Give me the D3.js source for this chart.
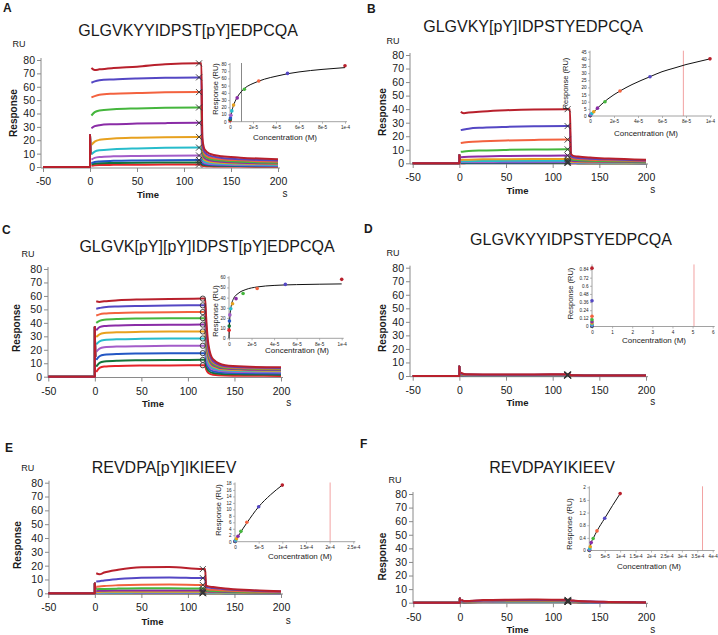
<!DOCTYPE html>
<html><head><meta charset="utf-8">
<script src="https://cdn.jsdelivr.net/npm/d3@7"></script>
<style>
body{margin:0;background:#fff}
svg{display:block}
text{font-family:"Liberation Sans",Arial,Helvetica,sans-serif;fill:#1a1a1a}
</style>
</head><body>
<svg id="chart" width="718" height="635"></svg>
<script>
// ---------------- DATA ----------------
const panelNames = ["A","B","C","D","E","F"];
const titles = [
  "GLGVKYYIDPST[pY]EDPCQA",
  "GLGVKY[pY]IDPSTYEDPCQA",
  "GLGVK[pY][pY]IDPST[pY]EDPCQA",
  "GLGVKYYIDPSTYEDPCQA",
  "REVDPA[pY]IKIEEV",
  "REVDPAYIKIEEV"
];
// analyte concentrations (M), highest first
const concentrations = [1e-4, 5e-5, 2.5e-5, 1.25e-5, 6.25e-6, 3.125e-6, 1.5625e-6, 7.8125e-7, 3.90625e-7, 1.953125e-7, 9.765625e-8];
const assocTimes = [1.5, 5, 10, 25, 50, 80, 116];
const dissocTimes = [119.5, 122, 127, 140, 160, 200];
const timeTicks = [-50, 0, 50, 100, 150, 200];
const responseTicks = [0, 10, 20, 30, 40, 50, 60, 70, 80];

// injection spike heights at t = 0 (RU)
const spikes = [24, 6, 37, 7, 7, 3];

// association phase responses (RU), one row per concentration
const assocA = [
  [74, 72.5, 73, 74, 75, 76.8, 77.5],
  [63, 64, 64.8, 65.5, 66.2, 66.7, 67],
  [52, 53, 54, 54.8, 55.3, 55.8, 56],
  [38.5, 41, 42.3, 43.2, 43.8, 44.3, 44.5],
  [29, 30.5, 31.3, 32, 32.5, 32.8, 33],
  [16.5, 19, 20.3, 21.3, 21.9, 22.3, 22.5],
  [9.5, 11.5, 12.5, 13.3, 13.9, 14.3, 14.5],
  [5.5, 6.8, 7.5, 8, 8.3, 8.5, 8.6],
  [3, 3.8, 4.2, 4.6, 4.9, 5.1, 5.2],
  [2, 2.5, 2.8, 3, 3.2, 3.3, 3.4],
  [1, 1.3, 1.5, 1.6, 1.7, 1.8, 1.8]
];
const dissocA = [
  [22, 13, 10, 8, 7, 5.8],
  [18, 11, 8.5, 6.8, 5.8, 4.8],
  [15, 9.5, 7.3, 5.8, 5, 4],
  [12, 8, 6.2, 4.8, 4, 3.2],
  [10, 6.5, 5, 3.9, 3.2, 2.6],
  [8, 5.2, 4, 3.1, 2.6, 2],
  [6, 4, 3.1, 2.4, 2, 1.5],
  [4.2, 3, 2.3, 1.8, 1.5, 1.1],
  [3, 2.2, 1.6, 1.3, 1, 0.7],
  [2, 1.5, 1.1, 0.9, 0.7, 0.5],
  [1, 0.8, 0.6, 0.4, 0.3, 0.2]
];
const assocB = [
  [38, 37, 37.5, 38.3, 39.2, 39.8, 40],
  [24.5, 25, 25.6, 26.3, 26.9, 27.3, 27.5],
  [15, 15.4, 15.8, 16.3, 16.9, 17.3, 17.5],
  [8.5, 8.8, 9.1, 9.5, 9.9, 10.2, 10.3],
  [4.5, 4.7, 4.9, 5.1, 5.4, 5.6, 5.7],
  [2.5, 2.6, 2.7, 2.9, 3, 3.1, 3.2],
  [1.4, 1.5, 1.6, 1.7, 1.8, 1.8, 1.9],
  [0.9, 0.9, 1, 1, 1.1, 1.1, 1.1],
  [0.5, 0.5, 0.6, 0.6, 0.6, 0.7, 0.7],
  [0.3, 0.3, 0.3, 0.4, 0.4, 0.4, 0.4],
  [0.1, 0.1, 0.2, 0.2, 0.2, 0.2, 0.2]
];
const dissocB = [
  [7, 5.5, 5, 4.2, 3.5, 2.6],
  [5.5, 4.5, 4, 3.4, 2.9, 2.1],
  [4.2, 3.6, 3.2, 2.7, 2.3, 1.6],
  [3, 2.6, 2.3, 1.9, 1.6, 1.2],
  [2, 1.7, 1.5, 1.3, 1.1, 0.8],
  [1.2, 1, 0.9, 0.8, 0.7, 0.5],
  [0.8, 0.7, 0.6, 0.5, 0.4, 0.3],
  [0.5, 0.4, 0.4, 0.3, 0.3, 0.2],
  [0.3, 0.3, 0.2, 0.2, 0.2, 0.1],
  [0.2, 0.2, 0.1, 0.1, 0.1, 0.1],
  [0.1, 0.1, 0.1, 0.1, 0, 0]
];
const assocC = [
  [56, 55.5, 56, 56.8, 57.4, 57.8, 58],
  [50.5, 51, 51.6, 52.2, 52.6, 52.9, 53],
  [45.5, 46.3, 46.9, 47.4, 47.7, 47.9, 48],
  [40, 41.5, 42.3, 42.9, 43.2, 43.4, 43.5],
  [34.5, 36.8, 37.6, 38.1, 38.4, 38.6, 38.7],
  [29.5, 31.5, 32.4, 33, 33.3, 33.5, 33.6],
  [24, 26.3, 27.2, 27.8, 28.1, 28.3, 28.4],
  [18.5, 20.8, 21.8, 22.4, 22.7, 22.9, 23],
  [12.5, 15.2, 16.3, 16.9, 17.2, 17.4, 17.5],
  [7.5, 10.3, 11.3, 11.9, 12.2, 12.4, 12.5],
  [3.5, 6.5, 7.5, 8, 8.3, 8.4, 8.5]
];
const dissocC = [
  [45, 24, 13, 8.5, 7.5, 7],
  [40, 21, 11.5, 7.8, 7, 6.5],
  [36, 18.5, 10.5, 7.2, 6.5, 6],
  [32, 16.5, 9.5, 6.6, 6, 5.5],
  [28, 14.5, 8.5, 6, 5.4, 5],
  [24, 12.5, 7.5, 5.3, 4.8, 4.5],
  [20, 10.5, 6.5, 4.7, 4.2, 4],
  [16, 8.5, 5.3, 3.8, 3.4, 3.2],
  [12, 6.5, 4, 2.9, 2.6, 2.4],
  [8.5, 4.5, 2.7, 1.9, 1.7, 1.5],
  [5.5, 2.8, 1.5, 0.9, 0.7, 0.6]
];
const assocD = [
  [2.5, 1.5, 1.3, 1.2, 1.2, 1.2, 1.3],
  [2, 1.2, 1.1, 1, 1, 1, 1.1],
  [1.6, 1, 0.9, 0.9, 0.9, 0.9, 0.9],
  [1.3, 0.9, 0.8, 0.8, 0.8, 0.8, 0.8],
  [1.1, 0.8, 0.7, 0.7, 0.7, 0.7, 0.7],
  [1, 0.7, 0.6, 0.6, 0.6, 0.6, 0.6],
  [0.9, 0.6, 0.6, 0.5, 0.5, 0.5, 0.5],
  [0.8, 0.5, 0.5, 0.5, 0.5, 0.5, 0.5],
  [0.7, 0.5, 0.4, 0.4, 0.4, 0.4, 0.4],
  [0.6, 0.4, 0.4, 0.4, 0.4, 0.4, 0.4],
  [0.5, 0.4, 0.3, 0.3, 0.3, 0.3, 0.3]
];
const dissocD = [
  [0.6, 0.5, 0.5, 0.4, 0.4, 0.4],
  [0.5, 0.5, 0.4, 0.4, 0.4, 0.3],
  [0.5, 0.4, 0.4, 0.4, 0.3, 0.3],
  [0.4, 0.4, 0.4, 0.3, 0.3, 0.3],
  [0.4, 0.4, 0.3, 0.3, 0.3, 0.3],
  [0.4, 0.3, 0.3, 0.3, 0.3, 0.2],
  [0.3, 0.3, 0.3, 0.3, 0.2, 0.2],
  [0.3, 0.3, 0.3, 0.2, 0.2, 0.2],
  [0.3, 0.3, 0.2, 0.2, 0.2, 0.2],
  [0.3, 0.2, 0.2, 0.2, 0.2, 0.2],
  [0.2, 0.2, 0.2, 0.2, 0.2, 0.1]
];
const assocE = [
  [14.5, 13.8, 15, 17, 18.8, 19, 17.5],
  [8.5, 8.8, 9.3, 10.3, 11.3, 11.5, 11],
  [4.8, 5, 5.3, 5.8, 6.2, 6.3, 6],
  [3, 3.1, 3.2, 3.4, 3.6, 3.6, 3.5],
  [1.7, 1.8, 1.9, 2, 2.1, 2.1, 2],
  [1, 1, 1.1, 1.1, 1.2, 1.2, 1.2],
  [0.5, 0.6, 0.6, 0.6, 0.7, 0.7, 0.7],
  [0.3, 0.3, 0.3, 0.4, 0.4, 0.4, 0.4],
  [0.2, 0.2, 0.2, 0.2, 0.2, 0.2, 0.2],
  [0.1, 0.1, 0.1, 0.1, 0.1, 0.1, 0.1],
  [0.05, 0.05, 0.05, 0.05, 0.05, 0.05, 0.05]
];
const dissocE = [
  [5.5, 5, 4.5, 3.5, 2.5, 1.5],
  [4.5, 4.2, 3.8, 3, 2.2, 1.3],
  [3, 2.8, 2.5, 2, 1.5, 0.9],
  [2, 1.9, 1.7, 1.4, 1, 0.6],
  [1.3, 1.2, 1.1, 0.9, 0.7, 0.4],
  [0.8, 0.7, 0.7, 0.6, 0.4, 0.3],
  [0.5, 0.4, 0.4, 0.3, 0.3, 0.2],
  [0.3, 0.3, 0.3, 0.2, 0.2, 0.1],
  [0.2, 0.2, 0.2, 0.1, 0.1, 0.1],
  [0.1, 0.1, 0.1, 0.1, 0.1, 0],
  [0.05, 0.05, 0.05, 0, 0, 0]
];
const assocF = [
  [2.2, 1.2, 1.3, 1.9, 2.2, 2.3, 2.1],
  [1.8, 1, 1.1, 1.6, 1.9, 2, 1.8],
  [1.5, 0.9, 1, 1.4, 1.6, 1.7, 1.6],
  [1.3, 0.8, 0.9, 1.2, 1.4, 1.5, 1.4],
  [1.1, 0.7, 0.8, 1, 1.2, 1.2, 1.2],
  [1, 0.6, 0.7, 0.9, 1, 1, 1],
  [0.9, 0.5, 0.6, 0.8, 0.9, 0.9, 0.9],
  [0.8, 0.5, 0.5, 0.7, 0.8, 0.8, 0.8],
  [0.7, 0.4, 0.5, 0.6, 0.7, 0.7, 0.7],
  [0.6, 0.4, 0.4, 0.5, 0.6, 0.6, 0.6],
  [0.5, 0.3, 0.4, 0.5, 0.5, 0.5, 0.5]
];
const dissocF = [
  [1.8, 1.6, 1.3, 0.9, 0.6, 0.2],
  [1.5, 1.4, 1.1, 0.8, 0.5, 0.2],
  [1.3, 1.2, 1, 0.7, 0.4, 0.2],
  [1.1, 1, 0.9, 0.6, 0.4, 0.2],
  [1, 0.9, 0.8, 0.5, 0.3, 0.1],
  [0.9, 0.8, 0.7, 0.5, 0.3, 0.1],
  [0.8, 0.7, 0.6, 0.4, 0.3, 0.1],
  [0.7, 0.6, 0.5, 0.4, 0.2, 0.1],
  [0.6, 0.5, 0.5, 0.3, 0.2, 0.1],
  [0.5, 0.5, 0.4, 0.3, 0.2, 0.1],
  [0.5, 0.4, 0.4, 0.3, 0.2, 0.1]
];

// steady-state binding (inset), one value per concentration (RU)
const bindA = [77.5, 67, 56.5, 45, 33, 23, 15, 9, 5, 3, 1.5];
const bindB = [40, 27.5, 17.5, 10, 5.5, 3, 1.8, 1.1, 0.7, 0.4, 0.2];
const bindC = [58, 53, 49, 44, 39, 34, 29, 23, 17, 12, 8];
const bindD = [0.86, 0.38, 0.15, 0.1, 0.07, 0.05, 0.03, 0.02, 0.01, 0.005, 0.002];
const bindE = [17.5, 10.8, 6, 3.2, 1.7, 0.9, 0.5, 0.3, 0.2, 0.1, 0.05];
const bindF = [1.8, 1.02, 0.62, 0.38, 0.25, 0.12, 0.06, 0.03, 0.02, 0.01, 0.005];

// steady-state fit curves (conc M, RU)
const fitXA = [0, 1e-6, 2.5e-6, 5e-6, 1e-5, 1.5e-5, 2e-5, 3e-5, 4e-5, 5e-5, 6e-5, 8e-5, 1e-4];
const fitYA = [0, 10, 20, 30, 42, 49, 53, 59, 63, 66.5, 69, 72.5, 75];
const fitXB = [0, 5e-6, 1e-5, 1.5e-5, 2.5e-5, 3.5e-5, 5e-5, 6e-5, 7e-5, 8e-5, 9e-5, 1e-4];
const fitYB = [0, 4.5, 8.5, 12, 17.5, 22, 27.5, 31, 33.5, 36, 38, 40];
const fitXC = [0, 5e-7, 1e-6, 2e-6, 4e-6, 8e-6, 1.5e-5, 2.5e-5, 4e-5, 6e-5, 8e-5, 1e-4];
const fitYC = [0, 15, 24, 32, 39, 44, 48, 50.5, 52, 52.8, 53.2, 53.5];
const fitXD = [];
const fitYD = [];
const fitXE = [0, 1e-5, 2.5e-5, 5e-5, 7.5e-5, 1e-4];
const fitYE = [0, 2.5, 5.8, 10.8, 14.5, 17.5];
const fitXF = [0, 6e-6, 1.25e-5, 2.5e-5, 5e-5, 7.5e-5, 1e-4];
const fitYF = [0, 0.25, 0.38, 0.62, 1.02, 1.42, 1.8];

// reference vertical line in insets (x value)
const refLines = [1e-5, 7.78e-5, null, 5.07, 2.01e-4, 3.67e-4];

// inset axis ticks
const insetXTicks = [
  [0, 2e-5, 4e-5, 6e-5, 8e-5, 1e-4],
  [0, 2e-5, 4e-5, 6e-5, 8e-5, 1e-4],
  [0, 2e-5, 4e-5, 6e-5, 8e-5, 1e-4],
  [0, 1, 2, 3, 4, 5, 6],
  [0, 5e-5, 1e-4, 1.5e-4, 2e-4, 2.5e-4],
  [0, 5e-5, 1e-4, 1.5e-4, 2e-4, 2.5e-4, 3e-4, 3.5e-4, 4e-4]
];
const insetXLabels = [
  ["0", "2e-5", "4e-5", "6e-5", "8e-5", "1e-4"],
  ["0", "2e-5", "4e-5", "6e-5", "8e-5", "1e-4"],
  ["0", "2e-5", "4e-5", "6e-5", "8e-5", "1e-4"],
  ["0", "1", "2", "3", "4", "5", "6"],
  ["0", "5e-5", "1e-4", "1.5e-4", "2e-4", "2.5e-4"],
  ["0", "5e-5", "1e-4", "1.5e-4", "2e-4", "2.5e-4", "3e-4", "3.5e-4", "4e-4"]
];
const insetYTicks = [
  [0, 10, 20, 30, 40, 50, 60, 70, 80],
  [0, 5, 10, 15, 20, 25, 30, 35, 40, 45],
  [0, 10, 20, 30, 40, 50, 60],
  [0, 0.12, 0.24, 0.36, 0.48, 0.6, 0.72, 0.84],
  [0, 2, 4, 6, 8, 10, 12, 14, 16, 18],
  [0, 0.4, 0.8, 1.2, 1.6, 2]
];
const insetYLabels = [
  ["0","10","20","30","40","50","60","70","80"],
  ["0","5","10","15","20","25","30","35","40","45"],
  ["0","10","20","30","40","50","60"],
  ["0","0.12","0.24","0.36","0.48","0.6","0.72","0.84"],
  ["0","2","4","6","8","10","12","14","16","18"],
  ["0","0.4","0.8","1.2","1.6","2"]
];

// ---------------- STYLE / LAYOUT ----------------
const seriesColors = ["#b8202c", "#5447c4", "#f3623f", "#45b63d", "#8a2ca6", "#e7a11f",
                      "#27bccb", "#a35cc9", "#2357c4", "#13733a", "#e5242a"];
const layout = [
  {letter:[3,12], title:[188,36], xr:[43,278], yr:[167,60], axisX:41, axisY:168,
   ru:[19,47], resp:[17,113], time:[148,198], s:[285,197], marker:"x",
   ins:{xr:[230,345], yr:[121.7,64], ytop:80, xmax:1e-4, conc:[285,140], resp:[218,89], ref:"#888"}},
  {letter:[367,13], title:[533,32], xr:[412.7,646], yr:[163.3,55], axisX:410, axisY:164,
   ru:[393,44], resp:[385.5,112], time:[517.5,194], s:[652.7,193], marker:"x",
   ins:{xr:[590,710], yr:[116,51.7], ytop:45, xmax:1e-4, conc:[646,135.5], resp:[568,83.5], ref:"#f2a2a2"}},
  {letter:[2,234], title:[207,251.7], xr:[48.3,281], yr:[376.7,269], axisX:48, axisY:377.5,
   ru:[28,257], resp:[19.5,328], time:[153,407], s:[288.7,406], marker:"o",
   ins:{xr:[229,341.7], yr:[338.3,277.3], ytop:60, xmax:1e-4, conc:[297,352.5], resp:[218,311], ref:null}},
  {letter:[364,233], title:[571,245], xr:[412.7,646], yr:[376,267.7], axisX:410, axisY:376.7,
   ru:[393,256], resp:[385.5,328], time:[517.5,406], s:[652.7,405], marker:"x",
   ins:{xr:[592,712.7], yr:[326.5,269.5], ytop:0.84, ytopAxis:0.9, xmax:6, conc:[654,343], resp:[573,293.5], ref:"#f2a2a2"}},
  {letter:[5,452], title:[164,472.7], xr:[48.3,281], yr:[593.3,482.7], axisX:49, axisY:594,
   ru:[27.7,470.7], resp:[20.5,545], time:[152.5,625], s:[288.3,624], marker:"x",
   ins:{xr:[235,353.3], yr:[541.7,483.5], ytop:18, xmax:2.5e-4, conc:[300,559], resp:[221,510], ref:"#f2a2a2"}},
  {letter:[360,448], title:[552,473.3], xr:[413.3,646], yr:[602.7,494], axisX:413, axisY:603.3,
   ru:[395,483.3], resp:[385.5,556.7], time:[517.5,633.3], s:[652.7,633], marker:"x",
   ins:{xr:[589.3,712.7], yr:[550.5,487.3], ytop:2, xmax:4e-4, conc:[649,569.3], resp:[572,524], ref:"#f2a2a2"}}
];

const assocAll = [assocA, assocB, assocC, assocD, assocE, assocF];
const dissocAll = [dissocA, dissocB, dissocC, dissocD, dissocE, dissocF];
const bindAll = [bindA, bindB, bindC, bindD, bindE, bindF];
const fitXAll = [fitXA, fitXB, fitXC, fitXD, fitXE, fitXF];
const fitYAll = [fitYA, fitYB, fitYC, fitYD, fitYE, fitYF];

const svg = d3.select("#chart");
const axisColor = "#8a8a8a";

function drawPanel(pi) {
  const L = layout[pi];
  const g = svg.append("g");
  const x = d3.scaleLinear().domain([-50, 200]).range(L.xr);
  const y = d3.scaleLinear().domain([0, 80]).range(L.yr);

  g.append("text").attr("x", L.letter[0]).attr("y", L.letter[1])
    .attr("font-size", 12).attr("font-weight", "bold").text(panelNames[pi]);
  g.append("text").attr("x", L.title[0]).attr("y", L.title[1])
    .attr("font-size", 16).attr("text-anchor", "middle").text(titles[pi]);

  // Y axis
  const yMinor = d3.range(0, 81, 5);
  const ya = g.append("g").attr("transform", `translate(${L.axisX},0)`);
  ya.call(d3.axisLeft(y).tickValues(yMinor).tickSize(2).tickFormat(""));
  ya.call(d3.axisLeft(y).tickValues(responseTicks).tickSize(4).tickPadding(2).tickFormat(d => String(d)));
  ya.selectAll(".domain").remove();
  ya.selectAll("line").attr("stroke", axisColor);
  ya.selectAll("text").attr("font-size", 10.5).attr("fill", "#1a1a1a").attr("font-family", "Liberation Sans, Arial, sans-serif");
  g.append("line").attr("x1", L.axisX).attr("x2", L.axisX).attr("y1", y(80) - 2).attr("y2", L.axisY)
    .attr("stroke", axisColor);

  // X axis
  const xMinor = d3.range(-50, 201, 10);
  const xa = g.append("g").attr("transform", `translate(0,${L.axisY})`);
  xa.call(d3.axisBottom(x).tickValues(xMinor).tickSize(2).tickFormat(""));
  xa.call(d3.axisBottom(x).tickValues(timeTicks).tickSize(4).tickPadding(6).tickFormat(d => String(d)));
  xa.selectAll(".domain").remove();
  xa.selectAll("line").attr("stroke", axisColor);
  xa.selectAll("text").attr("font-size", 10.5).attr("fill", "#1a1a1a").attr("font-family", "Liberation Sans, Arial, sans-serif");
  g.append("line").attr("x1", L.axisX).attr("x2", x(200) + 2).attr("y1", L.axisY).attr("y2", L.axisY)
    .attr("stroke", axisColor);

  // axis titles
  g.append("text").attr("x", L.ru[0]).attr("y", L.ru[1]).attr("font-size", 9).attr("text-anchor", "middle").text("RU");
  g.append("text").attr("transform", `translate(${L.resp[0]},${L.resp[1]}) rotate(-90)`)
    .attr("font-size", 10).attr("font-weight", "bold").attr("text-anchor", "middle").text("Response");
  g.append("text").attr("x", L.time[0]).attr("y", L.time[1]).attr("font-size", 9.5)
    .attr("font-weight", "bold").attr("text-anchor", "middle").text("Time");
  g.append("text").attr("x", L.s[0]).attr("y", L.s[1]).attr("font-size", 10).attr("text-anchor", "middle").text("s");

  // sensorgram curves
  const assoc = assocAll[pi], dissoc = dissocAll[pi];
  const smooth = d3.line().x(d => x(d[0])).y(d => y(d[1])).curve(d3.curveMonotoneX);
  const straight = d3.line().x(d => x(d[0])).y(d => y(d[1]));
  const curves = g.append("g").attr("fill", "none").attr("stroke-width", 2).attr("stroke-linejoin", "round");
  for (let i = concentrations.length - 1; i >= 0; i--) {
    const c = seriesColors[i];
    curves.append("path").attr("stroke", c)
      .attr("d", straight([[-50, 0], [0, 0], [0, spikes[pi]], [0.4, spikes[pi] * 0.4]]));
    const pts = assocTimes.map((t, k) => [t, assoc[i][k]]);
    pts.push([118.5, assoc[i][assoc[i].length - 1]]);
    dissocTimes.forEach((t, k) => pts.push([t, dissoc[i][k]]));
    curves.append("path").attr("stroke", c).attr("d", smooth(pts));
  }
  // report-point markers
  const mk = g.append("g").attr("stroke", "#333").attr("fill", "none").attr("stroke-width", 0.9);
  assoc.forEach(row => {
    const mx = x(116), my = y(row[row.length - 1]);
    if (L.marker === "o") {
      mk.append("circle").attr("cx", mx).attr("cy", my).attr("r", 2.6);
    } else {
      mk.append("path").attr("d", `M${mx - 3},${my - 3}L${mx + 3},${my + 3}M${mx - 3},${my + 3}L${mx + 3},${my - 3}`);
    }
  });

  drawInset(g, pi);
}

function drawInset(g0, pi) {
  const I = layout[pi].ins;
  const g = g0.append("g");
  const ix = d3.scaleLinear().domain([0, I.xmax]).range(I.xr);
  const iy = d3.scaleLinear().domain([0, I.ytop]).range(I.yr);
  const yTopVal = I.ytopAxis || I.ytop;
  const topPx = iy(yTopVal) - 1;

  // reference line
  if (refLines[pi] !== null && I.ref) {
    g.append("line").attr("x1", ix(refLines[pi])).attr("x2", ix(refLines[pi]))
      .attr("y1", I.yr[0]).attr("y2", topPx).attr("stroke", I.ref).attr("stroke-width", 1);
  }
  // axes
  const ya = g.append("g").attr("transform", `translate(${I.xr[0]},0)`);
  ya.call(d3.axisLeft(iy).tickValues(insetYTicks[pi]).tickSize(2).tickPadding(1.5)
    .tickFormat((d, k) => insetYLabels[pi][k]));
  ya.selectAll(".domain").remove();
  ya.selectAll("line").attr("stroke", axisColor).attr("stroke-width", 0.6);
  ya.selectAll("text").attr("font-size", 4.6).attr("fill", "#333");
  g.append("line").attr("x1", I.xr[0]).attr("x2", I.xr[0]).attr("y1", topPx).attr("y2", I.yr[0])
    .attr("stroke", axisColor).attr("stroke-width", 0.8);

  const xa = g.append("g").attr("transform", `translate(0,${I.yr[0]})`);
  xa.call(d3.axisBottom(ix).tickValues(insetXTicks[pi]).tickSize(2).tickPadding(2)
    .tickFormat((d, k) => insetXLabels[pi][k]));
  xa.selectAll(".domain").remove();
  xa.selectAll("line").attr("stroke", axisColor).attr("stroke-width", 0.6);
  xa.selectAll("text").attr("font-size", 4.6).attr("fill", "#333");
  g.append("line").attr("x1", I.xr[0]).attr("x2", I.xr[1] + 2).attr("y1", I.yr[0]).attr("y2", I.yr[0])
    .attr("stroke", axisColor).attr("stroke-width", 0.8);

  g.append("text").attr("x", I.conc[0]).attr("y", I.conc[1]).attr("font-size", 8)
    .attr("text-anchor", "middle").attr("fill", "#333").text("Concentration (M)");
  g.append("text").attr("transform", `translate(${I.resp[0]},${I.resp[1]}) rotate(-90)`)
    .attr("font-size", 7.5).attr("text-anchor", "middle").attr("fill", "#333").text("Response (RU)");

  // fit curve
  const fx = fitXAll[pi], fy = fitYAll[pi];
  if (fx.length) {
    g.append("path").attr("fill", "none").attr("stroke", "#111").attr("stroke-width", 1)
      .attr("d", d3.line().x(d => ix(d[0])).y(d => iy(d[1])).curve(d3.curveMonotoneX)(fx.map((v, k) => [v, fy[k]])));
  }
  // points
  const b = bindAll[pi];
  for (let i = concentrations.length - 1; i >= 0; i--) {
    g.append("circle").attr("cx", ix(concentrations[i])).attr("cy", iy(b[i])).attr("r", 1.8)
      .attr("fill", seriesColors[i]);
  }
}

for (let p = 0; p < 6; p++) drawPanel(p);
</script>
</body></html>
